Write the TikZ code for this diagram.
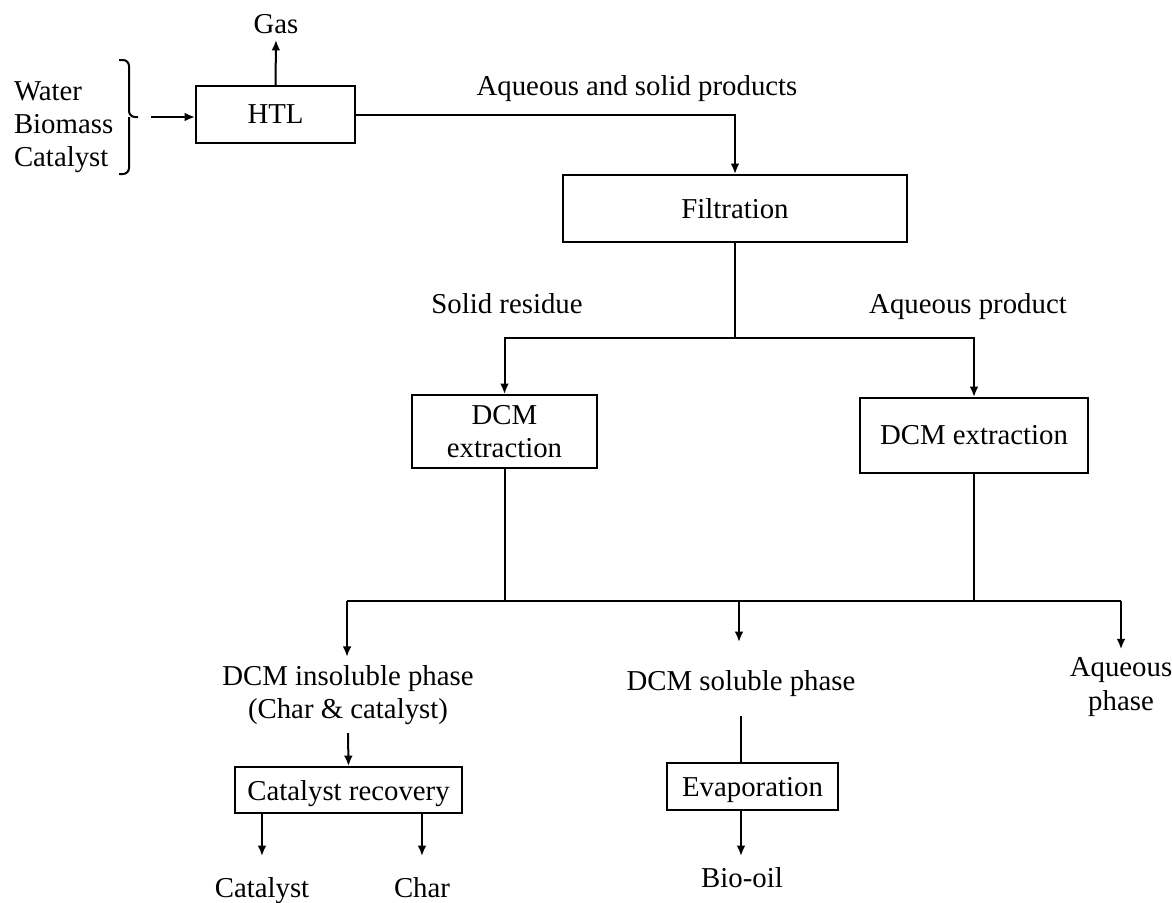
\documentclass[tikz,border=0pt]{standalone}
\usepackage{fontspec}
\setmainfont{Liberation Serif}
\usetikzlibrary{arrows.meta}
\begin{document}
\begin{tikzpicture}[x=0.5pt,y=-0.5pt,
  font=\fontsize{14.4}{16.6}\selectfont,
  line width=1pt,
  >={Latex[length=5.2pt,width=4.4pt]},
  box/.style={draw, inner sep=0pt, align=center},
  lbl/.style={inner sep=0pt, align=center}]
\useasboundingbox (0,0) rectangle (1172,902);

% feed and brace
\node[lbl, align=left, anchor=west] (feed) at (13,127) {Water\\Biomass\\Catalyst};
\coordinate (bt) at (138,117);
\draw[rounded corners=3pt] (119,60) -- (129,60) -- (129,117) -- (bt);
\draw[rounded corners=3pt] (119,174) -- (129,174) -- (129,117);

% boxes
\node[box, minimum width=79.5pt, minimum height=28.5pt] (htl) at (275.5,114.5) {HTL};
\node[box, minimum width=172pt, minimum height=33.5pt] (filt) at (735,208.5) {Filtration};
\node[box, minimum width=92.5pt, minimum height=36.5pt] (dcmL) at (504.5,431.5) {DCM\\extraction};
\node[box, minimum width=114pt, minimum height=37.5pt] (dcmR) at (974,435.5) {DCM extraction};
\node[box, text depth=0pt, minimum width=113.5pt, minimum height=23pt] (cr) at (348.5,790) {Catalyst recovery};
\node[box, text depth=0pt, minimum width=85.5pt, minimum height=23.5pt] (evap) at (752.5,786.5) {Evaporation};

% labels
\node[lbl, anchor=base, text depth=3pt] (gas) at (276,33) {Gas};
\node[lbl, anchor=base] (asp) at (637,95) {Aqueous and solid products};
\node[lbl, anchor=base] (sr) at (507,313) {Solid residue};
\node[lbl, anchor=base] (ap) at (968,313) {Aqueous product};
\node[lbl, inner ysep=3.75pt] (insol) at (348,695) {DCM insoluble phase\\(Char \& catalyst)};
\node[lbl, anchor=base, text height=23.5pt, text depth=12.5pt] (solu) at (741,690) {DCM soluble phase};
\node[lbl, inner ysep=3.8pt] (aqph) at (1121,687) {Aqueous\\phase};
\node[lbl, anchor=base, text height=20pt] (catl) at (262,897) {Catalyst};
\node[lbl, anchor=base, text height=20pt] (char) at (422,897) {Char};
\node[lbl, anchor=base, text height=15pt] (bio) at (742,887) {Bio-oil};

% connectors
\draw[->] ([xshift=6.5pt]bt) -- (bt -| htl.west);
\draw[->] (htl.north) -- (gas.south);
\draw[->] (htl.east) -| (filt.north);

\coordinate (s1) at (735,338);
\draw (filt.south) -- (s1);
\draw[->] (s1) -| (dcmL.north);
\draw[->] (s1) -| (dcmR.north);

\coordinate (j) at (0,601);
\coordinate (b1) at (347,601);
\coordinate (b2) at (739,601);
\coordinate (b3) at (1121,601);
\draw (dcmL.south) -- (dcmL.south |- j);
\draw (dcmR.south) -- (dcmR.south |- j);
\draw (b1) -- (b3);
\draw[->] (b1) -- (b1 |- insol.north);
\draw[->] (b2) -- (b2 |- solu.north);
\draw[->] (b3) -- (b3 |- aqph.north);

\draw[->] (insol.south) -- (cr.north);
\draw[->] (cr.south -| catl) -- (catl.north);
\draw[->] (cr.south -| char) -- (char.north);

\draw (solu.south) -- (solu.south |- evap.north);
\draw[->] (evap.south -| solu) -- (solu |- bio.north);
\end{tikzpicture}
\end{document}
